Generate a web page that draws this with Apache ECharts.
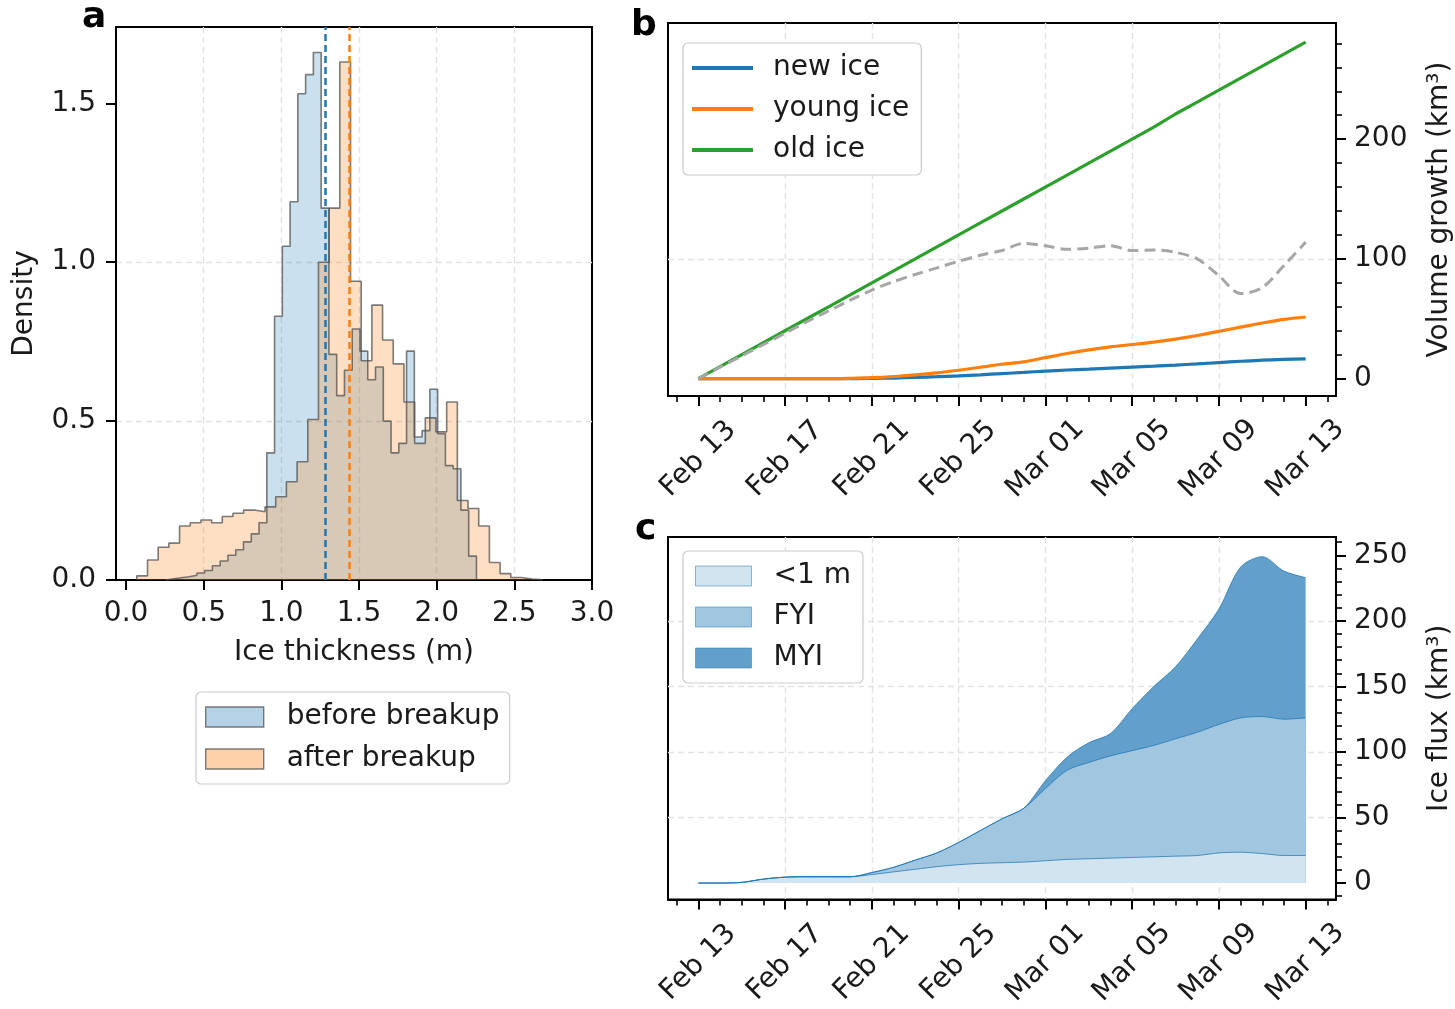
<!DOCTYPE html>
<html>
<head>
<meta charset="utf-8">
<title>Ice thickness, volume growth and flux</title>
<script src="https://cdn.jsdelivr.net/npm/echarts@6.0.0/dist/echarts.min.js"></script>
<style>
  html, body { margin: 0; padding: 0; background: #fff; }
  #chart { width: 1455px; height: 1009px; }
</style>
</head>
<body>
<div id="chart"></div>
<script>
// ---- panel a: thickness histograms (density per bin) ----
const beforeStart = 0.256, beforeWidth = 0.05;
const beforeDensity = [0.004, 0.007, 0.010, 0.015, 0.022, 0.030, 0.045, 0.060, 0.078, 0.095,
  0.12, 0.145, 0.18, 0.40, 0.83, 1.05, 1.19, 1.53, 1.59, 1.66,
  1.17, 0.71, 0.58, 0.66, 0.79, 0.72, 0.63, 0.67, 0.50, 0.40,
  0.43, 0.72, 0.45, 0.47, 0.60, 0.46, 0.36, 0.35, 0.22, 0.075];
const afterStart = 0.069, afterWidth = 0.0688;
const afterDensity = [0.013, 0.063, 0.103, 0.116, 0.17, 0.18, 0.189, 0.18, 0.20, 0.21,
  0.22, 0.215, 0.23, 0.262, 0.309, 0.372, 0.505, 1.00, 1.17, 1.63,
  0.94, 0.69, 0.865, 0.755, 0.68, 0.56, 0.43, 0.51, 0.466, 0.56,
  0.25, 0.225, 0.17, 0.055, 0.02, 0.008, 0.003, 0.001];
const medians = [1.281, 1.442];
const thicknessTicks = [0, 0.5, 1, 1.5, 2, 2.5, 3];
const densityTicks = [0, 0.5, 1, 1.5];

// ---- panels b and c: daily values, day 0 = Feb 13 ----
const days = [0, 1, 2, 3, 4, 5, 6, 7, 8, 9, 10, 11, 12, 13, 14, 15, 16, 17, 18, 19, 20, 21, 22, 23, 24, 25, 26, 27, 28];
const dateTicks = [0, 4, 8, 12, 16, 20, 24, 28];
const dateLabels = ['Feb 13', 'Feb 17', 'Feb 21', 'Feb 25', 'Mar 01', 'Mar 05', 'Mar 09', 'Mar 13'];
const dayTicks = [-1, 0, 1, 2, 3, 4, 5, 6, 7, 8, 9, 10, 11, 12, 13, 14, 15, 16, 17, 18, 19, 20, 21, 22, 23, 24, 25, 26, 27, 28, 29];

const newIce = [0, 0, 0, 0, 0, 0, 0, 0, 0.2, 0.5, 1, 1.6, 2.3, 3.2, 4.2, 5.2, 6.3, 7.2, 8, 8.8, 9.6, 10.4, 11.3, 12.3, 13.4, 14.5, 15.5, 16.1, 16.5];
const youngIce = [0, 0, 0, 0, 0, 0, 0, 0.3, 0.8, 1.8, 3.2, 4.8, 7, 9.5, 12, 14, 17.5, 21, 24, 26.5, 28.5, 30.5, 33, 36, 39.5, 43, 46.5, 49.5, 51.5];
const oldIce = [0, 10, 20, 30, 40, 50, 60, 70, 80, 90, 100, 110, 120, 130, 140, 150, 160, 170, 180, 190, 200, 210, 221, 231, 241, 251, 261, 271, 281];
const netGrowth = [0, 9.6, 19, 28.5, 38, 47.5, 56.5, 65.5, 74, 81, 87, 92.5, 98, 103, 107, 113, 111, 108, 109, 111, 107, 107.5, 105.5, 100, 86, 71, 76, 94.5, 114];
const growthTicks = [0, 100, 200];
const growthMinor = [0, 20, 40, 60, 80, 100, 120, 140, 160, 180, 200, 220, 240, 260, 280];

const fluxThin = [0, 0, 0.5, 3, 4.5, 4.8, 4.8, 4.8, 6.5, 8.5, 10.5, 12.5, 14, 15, 15.5, 16, 17, 18, 18.5, 19, 19.5, 20, 20.5, 21, 23, 23.5, 22.5, 21, 21];
const fluxFYI = [0, 0, 0, 0, 0, 0, 0, 0, 1.5, 3.5, 7, 10.5, 17, 25, 33.5, 41, 55, 68, 73.5, 78, 81.5, 85, 89.5, 94, 98, 102.5, 104.5, 104, 105];
const fluxMYI = [0, 0, 0, 0, 0, 0, 0, 0, 0, 0, 0, 0, 0, 0, 0, 0, 6, 10, 15, 17, 32, 45, 55, 71, 88, 115, 122, 113, 107];
const fluxTicks = [0, 50, 100, 150, 200, 250];
const fluxMinor = [-10, 0, 10, 20, 30, 40, 50, 60, 70, 80, 90, 100, 110, 120, 130, 140, 150, 160, 170, 180, 190, 200, 210, 220, 230, 240, 250, 260];

const FONT = 'DejaVu Sans';
const INK = '#1a1a1a';
const GRID_LINE = { show: true, showMinLine: false, showMaxLine: false, lineStyle: { type: [6, 4], color: '#e2e2e2', width: 1.4 } };
const text28 = { fontFamily: FONT, fontSize: 28, color: INK };
const THIN_FILL = 'rgb(210,228,240)', FYI_FILL = 'rgb(161,198,224)', MYI_FILL = 'rgb(98,159,202)';
const FLUX_EDGE = 'rgba(31,119,180,0.75)';

function stepData(start, width, heights) {
  const pts = [[start, 0]];
  heights.forEach((h, i) => pts.push([start + i * width, h]));
  pts.push([start + heights.length * width, 0]);
  return pts;
}
function byDay(values) {
  return days.map((d, i) => [d, values[i]]);
}
// stacked tops of the flux layers, summed by hand
const fyiTop = fluxThin.map((v, i) => v + fluxFYI[i]);
const fluxTotal = fyiTop.map((v, i) => v + fluxMYI[i]);

function majorTick(values) {
  return { show: true, length: 10, customValues: values, lineStyle: { color: '#000', width: 2 } };
}
function minorAxis(gridIndex, pos, min, max, values) {
  return {
    gridIndex: gridIndex, type: 'value', position: pos, min: min, max: max,
    axisLine: { show: false, onZero: false },
    axisTick: { show: true, length: 6, customValues: values, lineStyle: { color: '#000', width: 1.6 } },
    axisLabel: { show: false },
    splitLine: { show: false }
  };
}
function dateAxis(gridIndex) {
  return {
    gridIndex: gridIndex, type: 'value', position: 'bottom', min: -1.4, max: 29.4,
    axisLine: { show: true, onZero: false, lineStyle: { color: '#000', width: 2 } },
    axisTick: majorTick(dateTicks),
    axisLabel: Object.assign({
      customValues: dateTicks, rotate: 45, margin: 63, align: 'center', verticalAlign: 'middle',
      formatter: v => dateLabels[dateTicks.indexOf(v)]
    }, text28),
    splitLine: GRID_LINE
  };
}

const chart = echarts.init(document.getElementById('chart'), null, { renderer: 'canvas' });

const option = {
  animation: false,
  backgroundColor: '#fff',
  grid: [
    { left: 116, top: 27, width: 476, height: 553, show: true, borderColor: '#000', borderWidth: 2 },
    { left: 668, top: 23, width: 670, height: 373, show: true, borderColor: '#000', borderWidth: 2 },
    { left: 668, top: 537, width: 670, height: 367, show: true, borderColor: '#000', borderWidth: 2 }
  ],
  xAxis: [
    {
      gridIndex: 0, type: 'value', position: 'bottom', min: -0.065, max: 3.0,
      name: 'Ice thickness (m)', nameLocation: 'middle', nameGap: 59, nameTextStyle: text28,
      axisLine: { show: true, onZero: false, lineStyle: { color: '#000', width: 2 } },
      axisTick: majorTick(thicknessTicks),
      axisLabel: Object.assign({ customValues: thicknessTicks, margin: 20, formatter: v => v.toFixed(1) }, text28),
      splitLine: GRID_LINE
    },
    dateAxis(1),
    minorAxis(1, 'bottom', -1.4, 29.4, dayTicks),
    dateAxis(2),
    minorAxis(2, 'bottom', -1.4, 29.4, dayTicks)
  ],
  yAxis: [
    {
      gridIndex: 0, type: 'value', position: 'left', min: 0, max: 1.74,
      name: 'Density', nameLocation: 'middle', nameGap: 77, nameTextStyle: text28,
      axisLine: { show: true, onZero: false, lineStyle: { color: '#000', width: 2 } },
      axisTick: majorTick(densityTicks),
      axisLabel: Object.assign({ customValues: densityTicks, margin: 20, formatter: v => v.toFixed(1) }, text28),
      splitLine: GRID_LINE
    },
    {
      gridIndex: 1, type: 'value', position: 'right', min: -14.5, max: 297,
      name: 'Volume growth (km³)', nameLocation: 'middle', nameRotate: 90, nameGap: 90, nameTextStyle: text28,
      axisLine: { show: true, onZero: false, lineStyle: { color: '#000', width: 2 } },
      axisTick: majorTick(growthTicks),
      axisLabel: Object.assign({ customValues: growthTicks, margin: 18 }, text28),
      splitLine: GRID_LINE
    },
    minorAxis(1, 'right', -14.5, 297, growthMinor),
    {
      gridIndex: 2, type: 'value', position: 'right', min: -12.6, max: 264,
      name: 'Ice flux (km³)', nameLocation: 'middle', nameRotate: 90, nameGap: 90, nameTextStyle: text28,
      axisLine: { show: true, onZero: false, lineStyle: { color: '#000', width: 2 } },
      axisTick: majorTick(fluxTicks),
      axisLabel: Object.assign({ customValues: fluxTicks, margin: 18 }, text28),
      splitLine: GRID_LINE
    },
    minorAxis(2, 'right', -12.6, 264, fluxMinor)
  ],
  legend: [
    {
      orient: 'vertical', left: 196, top: 692, padding: [11, 10, 11, 9],
      backgroundColor: '#fff', borderColor: '#cccccc', borderWidth: 1.2, borderRadius: 5,
      itemWidth: 58, itemHeight: 20, itemGap: 14,
      textStyle: Object.assign({ padding: [0, 0, 0, 18] }, text28),
      data: [
        { name: 'before breakup', icon: 'rect', itemStyle: { color: 'rgba(31,119,180,0.33)', borderColor: 'rgba(80,80,80,0.75)', borderWidth: 1.4 } },
        { name: 'after breakup', icon: 'rect', itemStyle: { color: 'rgba(255,127,14,0.36)', borderColor: 'rgba(80,80,80,0.75)', borderWidth: 1.4 } }
      ]
    },
    {
      orient: 'vertical', left: 683, top: 43, padding: [11, 12, 11, 9],
      backgroundColor: '#fff', borderColor: '#cccccc', borderWidth: 1.2, borderRadius: 5,
      itemWidth: 61, itemHeight: 4, itemGap: 13,
      textStyle: Object.assign({ padding: [0, 0, 0, 15] }, text28),
      data: [
        { name: 'new ice', icon: 'rect', itemStyle: { color: '#1f77b4' } },
        { name: 'young ice', icon: 'rect', itemStyle: { color: '#ff7f0e' } },
        { name: 'old ice', icon: 'rect', itemStyle: { color: '#2ca02c' } }
      ]
    },
    {
      orient: 'vertical', left: 683, top: 551, padding: [11, 12, 11, 12],
      backgroundColor: '#fff', borderColor: '#cccccc', borderWidth: 1.2, borderRadius: 5,
      itemWidth: 56, itemHeight: 20, itemGap: 13,
      textStyle: Object.assign({ padding: [0, 0, 0, 17] }, text28),
      data: [
        { name: '<1 m', icon: 'rect', itemStyle: { color: THIN_FILL, borderColor: 'rgba(31,119,180,0.5)', borderWidth: 1 } },
        { name: 'FYI', icon: 'rect', itemStyle: { color: FYI_FILL, borderColor: 'rgba(31,119,180,0.5)', borderWidth: 1 } },
        { name: 'MYI', icon: 'rect', itemStyle: { color: MYI_FILL, borderColor: 'rgba(31,119,180,0.5)', borderWidth: 1 } }
      ]
    }
  ],
  graphic: [
    { type: 'text', left: 82, top: 0, style: { text: 'a', font: 'bold 36px "DejaVu Sans"', fill: '#000' } },
    { type: 'text', left: 631, top: 8, style: { text: 'b', font: 'bold 36px "DejaVu Sans"', fill: '#000' } },
    { type: 'text', left: 635, top: 512, style: { text: 'c', font: 'bold 36px "DejaVu Sans"', fill: '#000' } }
  ],
  series: [
    {
      name: 'before breakup', type: 'line', xAxisIndex: 0, yAxisIndex: 0, step: 'end', symbol: 'none',
      data: stepData(beforeStart, beforeWidth, beforeDensity),
      itemStyle: { color: 'rgba(31,119,180,0.33)' },
      lineStyle: { color: 'rgba(80,80,80,0.75)', width: 1.6 },
      areaStyle: { color: 'rgba(31,119,180,0.33)' },
      markLine: {
        silent: true, symbol: 'none', label: { show: false },
        lineStyle: { color: '#1f77b4', type: [7, 4], width: 2.5 },
        data: [{ xAxis: medians[0] }]
      }
    },
    {
      name: 'after breakup', type: 'line', xAxisIndex: 0, yAxisIndex: 0, step: 'end', symbol: 'none',
      data: stepData(afterStart, afterWidth, afterDensity),
      itemStyle: { color: 'rgba(255,127,14,0.36)' },
      lineStyle: { color: 'rgba(80,80,80,0.75)', width: 1.6 },
      areaStyle: { color: 'rgba(255,127,14,0.36)' },
      markLine: {
        silent: true, symbol: 'none', label: { show: false },
        lineStyle: { color: '#ff7f0e', type: [7, 4], width: 2.5 },
        data: [{ xAxis: medians[1] }]
      }
    },
    {
      name: 'new ice', type: 'line', xAxisIndex: 1, yAxisIndex: 1, symbol: 'none', smooth: 0.3,
      data: byDay(newIce), itemStyle: { color: '#1f77b4' }, lineStyle: { color: '#1f77b4', width: 3.2 }
    },
    {
      name: 'young ice', type: 'line', xAxisIndex: 1, yAxisIndex: 1, symbol: 'none', smooth: 0.3,
      data: byDay(youngIce), itemStyle: { color: '#ff7f0e' }, lineStyle: { color: '#ff7f0e', width: 3.2 }
    },
    {
      name: 'old ice', type: 'line', xAxisIndex: 1, yAxisIndex: 1, symbol: 'none',
      data: byDay(oldIce), itemStyle: { color: '#2ca02c' }, lineStyle: { color: '#2ca02c', width: 3.2 }
    },
    {
      name: 'net growth', type: 'line', xAxisIndex: 1, yAxisIndex: 1, symbol: 'none', smooth: 0.3,
      data: byDay(netGrowth), itemStyle: { color: '#a6a6a6' }, lineStyle: { color: '#a6a6a6', width: 3, type: [11, 6] }
    },
    // flux layers: drawn from the top layer down so each band covers the one beneath
    {
      name: 'MYI', type: 'line', xAxisIndex: 3, yAxisIndex: 3, symbol: 'none', smooth: 0.3,
      data: byDay(fluxTotal), itemStyle: { color: MYI_FILL },
      lineStyle: { color: FLUX_EDGE, width: 1 },
      areaStyle: { color: MYI_FILL, opacity: 1 }
    },
    {
      name: 'FYI', type: 'line', xAxisIndex: 3, yAxisIndex: 3, symbol: 'none', smooth: 0.3,
      data: byDay(fyiTop), itemStyle: { color: FYI_FILL },
      lineStyle: { color: FLUX_EDGE, width: 1 },
      areaStyle: { color: FYI_FILL, opacity: 1 }
    },
    {
      name: '<1 m', type: 'line', xAxisIndex: 3, yAxisIndex: 3, symbol: 'none', smooth: 0.3,
      data: byDay(fluxThin), itemStyle: { color: THIN_FILL },
      lineStyle: { color: FLUX_EDGE, width: 1 },
      areaStyle: { color: THIN_FILL, opacity: 1 }
    }
  ]
};

chart.setOption(option);
</script>
</body>
</html>
